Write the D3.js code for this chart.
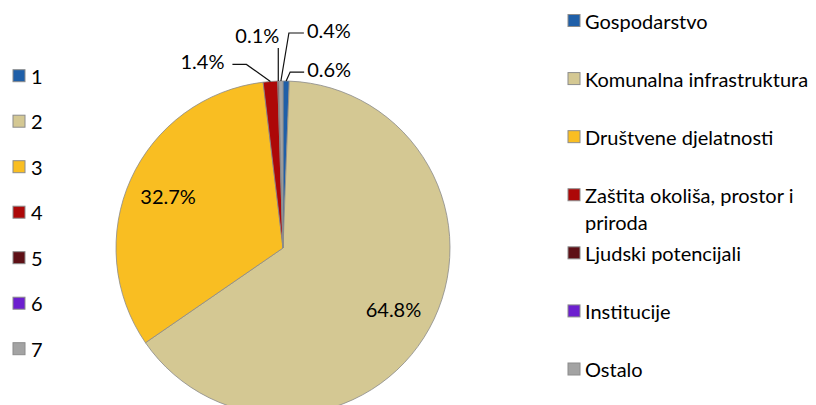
<!DOCTYPE html>
<html><head><meta charset="utf-8">
<script src="https://cdn.jsdelivr.net/npm/d3@7"></script>
<style>body{margin:0;background:#fff}svg{display:block}text{font-family:Lato,"Noto Sans",sans-serif;fill:#000}</style>
</head><body>
<svg id="chart" width="816" height="405"></svg>
<script>
const codes = ["1","2","3","4","5","6","7"];
const categories = ["Gospodarstvo","Komunalna infrastruktura","Društvene djelatnosti","Zaštita okoliša, prostor i priroda","Ljudski potencijali","Institucije","Ostalo"];
const legendLines = [["Gospodarstvo"],["Komunalna infrastruktura"],["Društvene djelatnosti"],["Zaštita okoliša, prostor i","priroda"],["Ljudski potencijali"],["Institucije"],["Ostalo"]];
const values = [0.6, 64.8, 32.7, 1.4, 0.1, 0.0, 0.4];
const colors = ["#1F5FA8","#D4C893","#F9BE22","#AD0808","#5E1016","#6C1FCF","#A3A3A3"];
const labelText = ["0.6%","64.8%","32.7%","1.4%","0.1%","","0.4%"];

// label layout (leader lines for small slices): offsets from outer arc point
const leader = [
  {elbow:[4,-9], end:[18,-9], anchor:"start", tdx:3, tdy:-3},
  null,
  null,
  {elbow:[-24,-17], end:[-38,-17], anchor:"end", tdx:-8, tdy:-3},
  {elbow:[0,-33], end:[0,-33], anchor:"end", tdx:1, tdy:-13},
  null,
  {elbow:[8,-48], end:[23,-48], anchor:"start", tdx:3, tdy:-3}
];

const svg = d3.select("#chart");
const cx = 283, cy = 248, R = 167;
const g = svg.append("g").attr("transform", `translate(${cx},${cy})`);

const pie = d3.pie().sort(null).value(d => d)(values);
const arc = d3.arc().innerRadius(0).outerRadius(R);

g.selectAll("path.slice").data(pie).join("path")
  .attr("class","slice")
  .attr("d", d => d.value > 0 ? arc(d) : null)
  .attr("fill", (d,i) => colors[i])
  .attr("stroke", "#8a8a8a")
  .attr("stroke-width", 0.8);

const fs = 20;
pie.forEach((d,i) => {
  if (!labelText[i]) return;
  const mid = (d.startAngle + d.endAngle) / 2;
  if (!leader[i]) {
    const r = R * 0.755;
    g.append("text")
      .attr("x", Math.sin(mid) * r)
      .attr("y", -Math.cos(mid) * r)
      .attr("text-anchor","middle")
      .attr("dominant-baseline","central")
      .style("font-size", fs + "px")
      .text(labelText[i]);
  } else {
    const L = leader[i];
    const px = Math.sin(mid) * R, py = -Math.cos(mid) * R;
    const pts = [[px,py],[px+L.elbow[0],py+L.elbow[1]],[px+L.end[0],py+L.end[1]]];
    g.append("path")
      .attr("d", d3.line()(pts))
      .attr("fill","none").attr("stroke","#111").attr("stroke-width",1.2);
    g.append("text")
      .attr("x", pts[2][0] + L.tdx)
      .attr("y", pts[2][1] + L.tdy)
      .attr("text-anchor", L.anchor)
      .attr("dominant-baseline","central")
      .style("font-size", fs + "px")
      .text(labelText[i]);
  }
});

// left legend (codes)
const yL = d3.scalePoint().domain(codes).range([75.7, 348.7]);
const lg = svg.append("g");
codes.forEach((c,i) => {
  lg.append("rect").attr("x",13).attr("y",yL(c)-6).attr("width",12).attr("height",12)
    .attr("fill",colors[i]).attr("stroke","#8c8c8c").attr("stroke-width",1);
  lg.append("text").attr("x",31).attr("y",yL(c)).attr("dominant-baseline","central")
    .style("font-size", fs+"px").text(c);
});

// right legend (names)
const yR = d3.scalePoint().domain(categories).range([20.5, 369]);
const rg = svg.append("g");
categories.forEach((c,i) => {
  rg.append("rect").attr("x",568).attr("y",yR(c)-6).attr("width",12).attr("height",12)
    .attr("fill",colors[i]).attr("stroke","#8c8c8c").attr("stroke-width",1);
  const t = rg.append("text").attr("x",585).attr("y",yR(c)).attr("dominant-baseline","central")
    .style("font-size", fs+"px");
  legendLines[i].forEach((ln,j) => {
    t.append("tspan").attr("x",585).attr("dy", j===0 ? 0 : 27).text(ln);
  });
});
</script>
</body></html>
